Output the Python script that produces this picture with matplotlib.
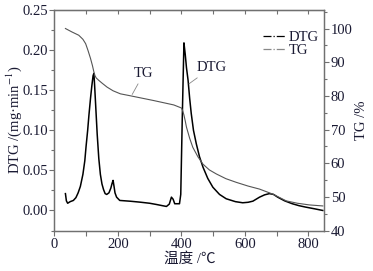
import numpy as np
import matplotlib
matplotlib.use("Agg")
import matplotlib.pyplot as plt
from matplotlib.lines import Line2D
from matplotlib.ticker import MultipleLocator, FormatStrFormatter

# dados (temperatura em graus C)
dtg_temp = [35, 38, 42, 50, 60, 68, 75, 82, 90, 96, 100, 105, 109, 114, 118, 122,
            124.6, 127, 131, 135, 140, 145, 150, 155, 160, 165, 172, 178, 182, 185,
            188, 191, 196, 206, 240, 269, 300, 321, 340, 353, 362, 368.6, 374, 379,
            390, 394, 398, 403, 408, 412, 416, 421, 426, 431, 438, 447, 457, 468,
            483, 499, 520, 541, 570, 593, 610, 625, 646, 662, 677, 690, 703, 725,
            749, 770, 791, 820, 845]
dtg_val = [0.021, 0.012, 0.009, 0.011, 0.0125, 0.016, 0.022, 0.03, 0.045, 0.062,
           0.08, 0.10, 0.119, 0.14, 0.155, 0.168, 0.171, 0.155, 0.125, 0.095,
           0.065, 0.045, 0.033, 0.026, 0.021, 0.020, 0.022, 0.028, 0.034, 0.0375,
           0.03, 0.022, 0.0166, 0.0125, 0.0115, 0.0104, 0.009, 0.0075, 0.006,
           0.005, 0.008, 0.0166, 0.014, 0.0084, 0.0084, 0.0084, 0.02, 0.12, 0.209,
           0.195, 0.178, 0.1625, 0.14, 0.121, 0.10, 0.083, 0.067, 0.054, 0.040,
           0.029, 0.020, 0.0146, 0.011, 0.0096, 0.0102, 0.0116, 0.0166, 0.0195,
           0.021, 0.020, 0.0166, 0.012, 0.0084, 0.006, 0.0042, 0.002, 0.0]

tg_temp = [35, 55, 77, 90, 98.6, 106, 114, 120, 124.6, 128, 132, 140, 150, 166,
           185, 208, 235, 261, 313, 376, 400, 404, 408, 412, 416, 426, 436, 452,
           468, 488, 510, 540, 573, 610, 646, 688, 730, 765, 803, 845]
tg_val = [100.0, 99.0, 98.0, 96.8, 95.5, 93.5, 91.1, 89.0, 87.1, 86.0, 85.3, 84.6,
          83.8, 82.6, 81.5, 80.6, 80.1, 79.6, 78.6, 77.3, 76.4, 75.6, 74.3, 72.6,
          70.7, 67.4, 64.7, 61.9, 59.7, 58.0, 56.8, 55.4, 54.3, 53.2, 52.3, 50.8,
          48.8, 48.1, 47.6, 47.3]

plt.rcParams['font.family'] = ['Liberation Serif', 'Noto Sans CJK SC']
plt.rcParams['mathtext.fontset'] = 'stix'
plt.rcParams['font.size'] = 10.5

txt = '#1a1a33'
spine = '#707070'

fig = plt.figure(figsize=(3.73, 2.71), dpi=100)
ax = fig.add_axes([0.1456, 0.1494, 0.7240, 0.8137])
ax2 = ax.twinx()

ax.plot(dtg_temp, dtg_val, color='black', lw=1.1)
ax2.plot(tg_temp, tg_val, color='#555555', lw=0.8)

ax.set_xlim(0, 850)
ax.set_ylim(-0.025, 0.25)
ax2.set_ylim(40, 105.5)

ax.xaxis.set_major_locator(MultipleLocator(200))
ax.xaxis.set_minor_locator(MultipleLocator(100))
ax.yaxis.set_major_locator(MultipleLocator(0.05))
ax.yaxis.set_minor_locator(MultipleLocator(0.025))
ax.yaxis.set_major_formatter(FormatStrFormatter('%.2f'))
ax2.yaxis.set_major_locator(MultipleLocator(10))
ax2.yaxis.set_minor_locator(MultipleLocator(5))

ax.tick_params(axis='x', which='both', direction='out', length=3.5, width=0.8,
               color=spine, labelcolor=txt, pad=2)
ax.tick_params(axis='y', which='major', direction='out', length=3.5, width=0.8,
               color=spine, labelcolor=txt, pad=1)
ax.tick_params(axis='y', which='minor', direction='out', length=2, width=0.8,
               color=spine)
ax2.tick_params(axis='y', which='major', direction='out', length=3.5, width=0.8,
                color=spine, labelcolor=txt, pad=1)
ax2.tick_params(axis='y', which='minor', direction='out', length=2, width=0.8,
                color=spine)

top = ax.secondary_xaxis('top')
top.set_xticks(np.arange(100, 900, 100))
top.set_xticklabels([])
top.tick_params(direction='in', length=3, width=0.8, color=spine)
top.spines['top'].set_color(spine)

for a in (ax, ax2):
    for s in a.spines.values():
        s.set_color(spine)
        s.set_linewidth(0.9)

ax.set_xlabel('温度 /℃', color=txt, labelpad=1)
ax.set_ylabel('DTG /(mg·min$^{-1}$)', color=txt, labelpad=-1)
ax2.set_ylabel('TG /%', color=txt, labelpad=2)

# anotacoes das curvas
ax.annotate('TG', xy=(245, 0.1446), xytext=(282, 0.171), ha='center', va='center',
            color=txt, arrowprops=dict(arrowstyle='-', color='#888888', lw=0.6,
                                       shrinkA=1, shrinkB=0))
ax.annotate('DTG', xy=(424, 0.158), xytext=(494, 0.178), ha='center', va='center',
            color=txt, arrowprops=dict(arrowstyle='-', color='#888888', lw=0.6,
                                       shrinkA=1, shrinkB=0))

handles = [Line2D([], [], color='black', lw=0.9, ls='-.'),
           Line2D([], [], color='#888888', lw=0.9, ls='-.')]
ax2.legend(handles, ['DTG', 'TG'], loc='upper left', bbox_to_anchor=(0.745, 0.94),
           frameon=False, handlelength=1.6, handletextpad=0.15, labelspacing=0.0,
           borderpad=0, labelcolor=txt)

fig.savefig('out.png', dpi=100)
